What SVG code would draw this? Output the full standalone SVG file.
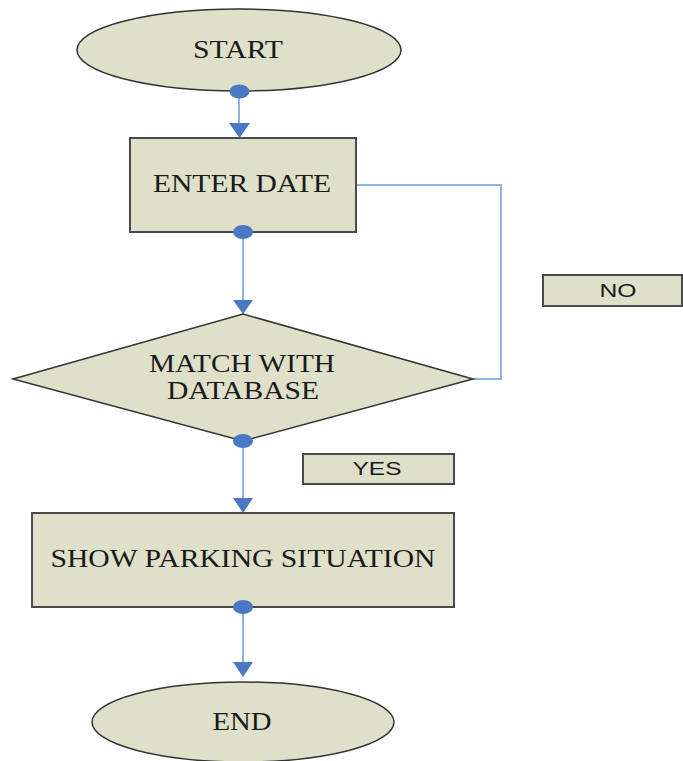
<svg xmlns="http://www.w3.org/2000/svg" width="683" height="761" viewBox="0 0 683 761">
  <style>
    .shape { fill: #dee0ca; stroke: #333333; stroke-width: 1.5; }
    .box { fill: #dee0ca; stroke: #4a4a4a; stroke-width: 2; }
    .serif { font-family: "Liberation Serif", "Times New Roman", serif; font-size: 25px; fill: #1a1a1a; text-anchor: middle; }
    .sans { font-family: "Liberation Sans", Arial, sans-serif; font-size: 19px; fill: #1a1a1a; text-anchor: middle; }
    .link { fill: none; stroke: #8db3e2; stroke-width: 2; }
    .head { fill: #4a78c2; }
    .dot { fill: #4a78c2; }
  </style>
  <rect width="683" height="761" fill="#ffffff"/>

  <!-- connectors -->
  <g id="connectors">
    <path class="link" d="M239,91 V123"/>
    <path class="head" d="M229,123 L250,123 L239.5,138 Z"/>
    <path class="link" d="M243,232 V300"/>
    <path class="head" d="M233,300 L253,300 L243,314 Z"/>
    <path class="link" d="M243,441 V498"/>
    <path class="head" d="M233,498 L253,498 L243,513 Z"/>
    <path class="link" d="M243,607 V662"/>
    <path class="head" d="M233,662 L253,662 L243,677 Z"/>
    <path class="link" d="M356,185 H501 V379 H473"/>
  </g>

  <g id="start">
    <ellipse class="shape" cx="239" cy="50" rx="162" ry="41"/>
    <text class="serif" x="238" y="58" textLength="90" lengthAdjust="spacingAndGlyphs">START</text>
  </g>

  <g id="enter-date">
    <rect class="box" x="130" y="138" width="226" height="94"/>
    <text class="serif" x="242" y="192" textLength="178" lengthAdjust="spacingAndGlyphs">ENTER DATE</text>
  </g>

  <g id="match-database">
    <polygon class="shape" points="243,314 473,379 243,441 13,379"/>
    <text class="serif" x="242" y="372" textLength="186" lengthAdjust="spacingAndGlyphs">MATCH WITH</text>
    <text class="serif" x="243" y="399" textLength="152" lengthAdjust="spacingAndGlyphs">DATABASE</text>
  </g>

  <g id="show-parking">
    <rect class="box" x="32" y="513" width="422" height="94"/>
    <text class="serif" x="243" y="567" font-size="23" textLength="385" lengthAdjust="spacingAndGlyphs">SHOW PARKING SITUATION</text>
  </g>

  <g id="end">
    <ellipse class="shape" cx="243" cy="722" rx="151" ry="40"/>
    <text class="serif" x="242" y="730" textLength="59" lengthAdjust="spacingAndGlyphs">END</text>
  </g>

  <g id="label-no">
    <rect class="box" x="543" y="275" width="139" height="31"/>
    <text class="sans" x="618" y="297" textLength="37" lengthAdjust="spacingAndGlyphs">NO</text>
  </g>

  <g id="label-yes">
    <rect class="box" x="303" y="454" width="151" height="30"/>
    <text class="sans" x="377" y="475" textLength="49" lengthAdjust="spacingAndGlyphs">YES</text>
  </g>

  <!-- connection dots -->
  <g id="dots">
    <ellipse class="dot" cx="239.5" cy="91.5" rx="10" ry="7"/>
    <ellipse class="dot" cx="243" cy="232" rx="10" ry="7"/>
    <ellipse class="dot" cx="243" cy="441" rx="10" ry="7"/>
    <ellipse class="dot" cx="243" cy="607" rx="10" ry="7"/>
  </g>
</svg>
